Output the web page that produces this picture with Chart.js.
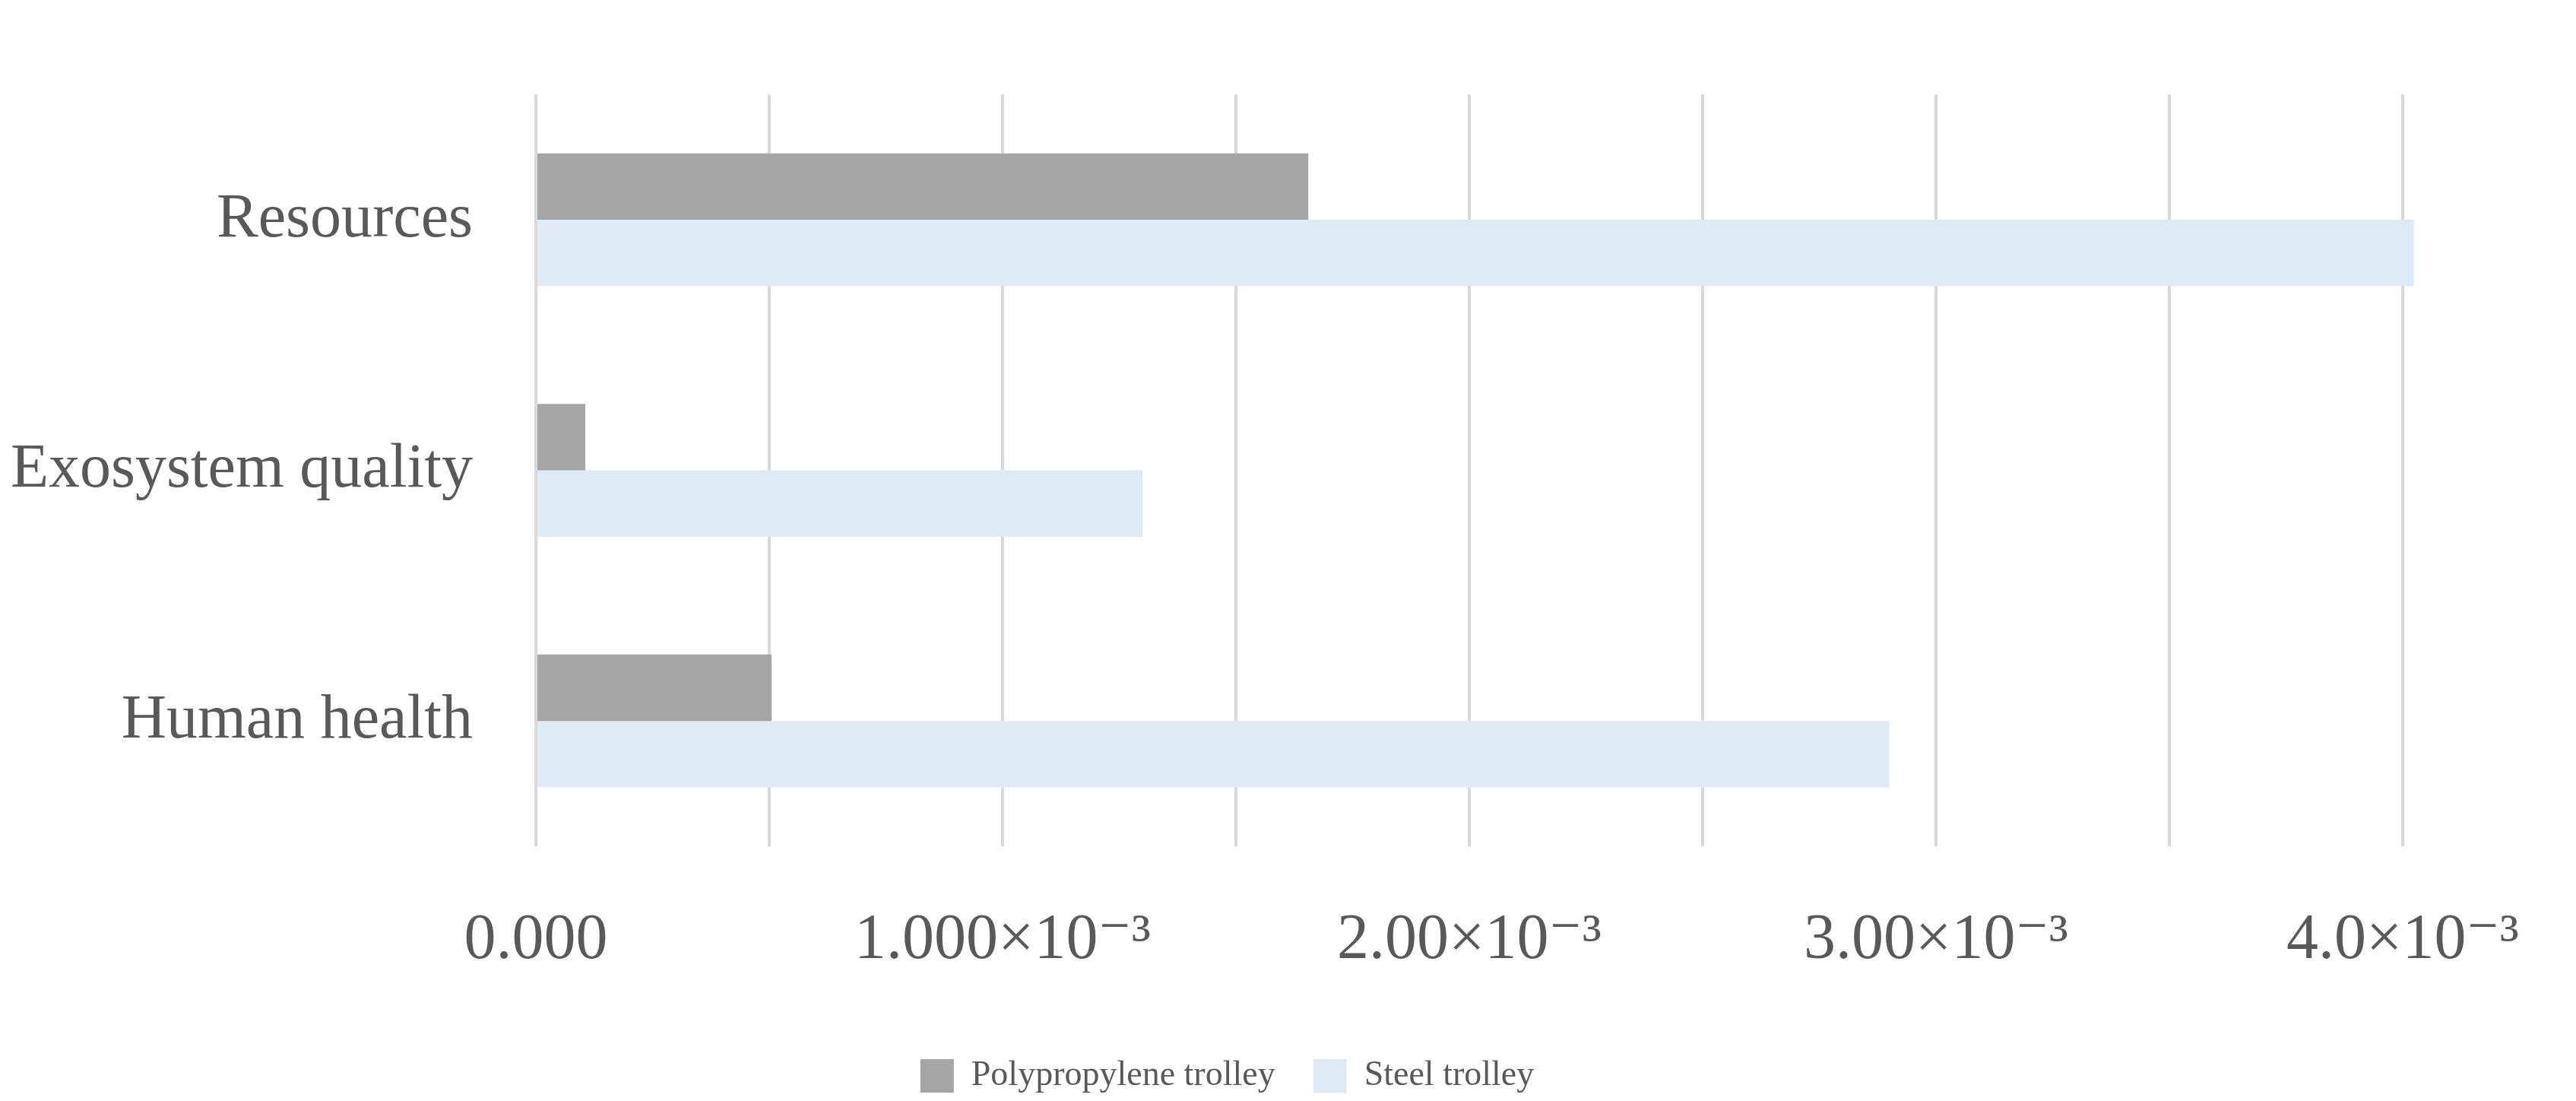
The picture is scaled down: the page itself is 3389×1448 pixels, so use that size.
<!DOCTYPE html>
<html><head><meta charset="utf-8">
<script src="https://cdn.jsdelivr.net/npm/chart.js@4"></script>
<style>html,body{margin:0;padding:0;background:#fff}</style>
</head><body>
<canvas id="c" width="3389" height="1448"></canvas>
<script>
const categories = ["Resources", "Exosystem quality", "Human health"];
const polypropylene = [1.655e-3, 0.106e-3, 0.505e-3];
const steel = [4.024e-3, 1.30e-3, 2.90e-3];
const tickLabels = {0: "0.000", 1: "1.000×10⁻³", 2: "2.00×10⁻³", 3: "3.00×10⁻³", 4: "4.0×10⁻³"};
const font = "'Liberation Serif','DejaVu Serif',serif";
new Chart(document.getElementById('c'), {
  type: 'bar',
  data: {
    labels: categories,
    datasets: [
      {label: "Polypropylene trolley", data: polypropylene, backgroundColor: '#a5a5a5'},
      {label: "Steel trolley", data: steel, backgroundColor: '#deebf7'}
    ]
  },
  options: {
    indexAxis: 'y', responsive: false, animation: false, devicePixelRatio: 1,
    categoryPercentage: 0.53, barPercentage: 1,
    clip: false,
    layout: {padding: {top: -50, right: 160, left: 0, bottom: 0}},
    plugins: {
      tooltip: {enabled: false},
      legend: {position: 'bottom', labels: {font: {family: font, size: 46}, color: '#595959', boxWidth: 44, boxHeight: 44, padding: 50}}
    },
    scales: {
      x: {
        min: 0, max: 4e-3,
        border: {display: false},
        grid: {color: '#d9d9d9', lineWidth: 4, drawTicks: false},
        afterFit: (s) => { s.height = 229; },
        ticks: {stepSize: 0.5e-3, padding: 75, color: '#595959', font: {family: font, size: 84}, maxRotation: 0, autoSkip: false,
          callback: (v) => { const k = Math.round(v / 1e-3 * 2); return k % 2 === 0 ? tickLabels[k/2] : ''; }}
      },
      y: {
        border: {display: false},
        grid: {display: false},
        afterFit: (s) => { s.width = 705; },
        ticks: {color: '#595959', font: {family: font, size: 82}, padding: 75}
      }
    }
  }
});
</script>
</body></html>
